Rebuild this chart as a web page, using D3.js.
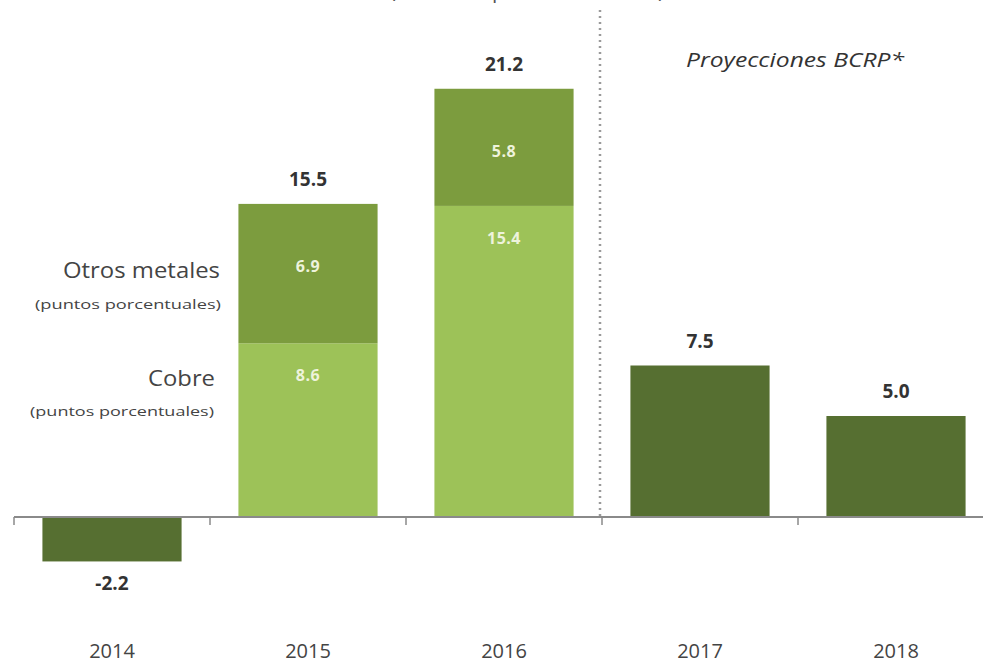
<!DOCTYPE html>
<html><head><meta charset="utf-8">
<script src="https://cdn.jsdelivr.net/npm/d3@7"></script>
<style>body{margin:0;background:#fff;}svg{display:block;}</style>
</head><body>
<svg id="c" width="983" height="665"></svg>
<script>
const years = ["2014","2015","2016","2017","2018"];
const cobre = [null, 8.6, 15.4, null, null];
const otros = [null, 6.9, 5.8, null, null];
const total = [-2.2, 15.5, 21.2, 7.5, 5.0];
const projectionStart = "2017";

const svg = d3.select("#c");
const font = "'Open Sans', Lato, sans-serif";

const x = d3.scaleBand().domain(years).range([14, 994]).paddingInner(0.29).paddingOuter(0.145);
const y = d3.scaleLinear().domain([-5, 25]).range([618, 12]);
const step = x.step();
const half = step * 0.29 / 2;

// partial title (cut off at top in the original)
svg.append("text").attr("x", 527).attr("y", -2).attr("text-anchor", "middle")
  .attr("font-family", font).attr("font-size", 21).attr("fill", "#555")
  .text("(Variación porcentual anual)");

// bars
const rows = years.map((yr, i) => ({yr, c: cobre[i], o: otros[i], t: total[i]}));
const g = svg.append("g");
rows.forEach(d => {
  const cx = x(d.yr) + x.bandwidth()/2;
  if (d.c != null) {
    g.append("rect").attr("x", x(d.yr)).attr("width", x.bandwidth())
      .attr("y", y(d.c)).attr("height", y(0) - y(d.c)).attr("fill", "#9dc258");
    g.append("rect").attr("x", x(d.yr)).attr("width", x.bandwidth())
      .attr("y", y(d.c + d.o)).attr("height", y(d.c) - y(d.c + d.o)).attr("fill", "#7c9c3e");
    g.append("text").attr("x", cx).attr("y", y(d.c + d.o) + 68)
      .attr("text-anchor", "middle").attr("font-family", font).attr("font-weight", "bold")
      .attr("font-size", 16).attr("letter-spacing", 0.5).attr("fill", "#eef3dc").text(d.o.toFixed(1));
    g.append("text").attr("x", cx).attr("y", y(d.c) + 38)
      .attr("text-anchor", "middle").attr("font-family", font).attr("font-weight", "bold")
      .attr("font-size", 16).attr("letter-spacing", 0.5).attr("fill", "#eef3dc").text(d.c.toFixed(1));
  } else {
    g.append("rect").attr("x", x(d.yr)).attr("width", x.bandwidth())
      .attr("y", y(Math.max(0, d.t))).attr("height", Math.abs(y(d.t) - y(0))).attr("fill", "#566f31");
  }
  const lbY = d.t >= 0 ? y(d.t) - 18 : y(d.t) + 29;
  g.append("text").attr("x", cx).attr("y", lbY)
    .attr("text-anchor", "middle").attr("font-family", font).attr("font-weight", "bold")
    .attr("font-size", 19).attr("fill", "#333").text(d.t.toFixed(1));
});

// zero axis line with boundary ticks
const ax = svg.append("g");
ax.append("line").attr("x1", 14).attr("x2", 994).attr("y1", y(0)).attr("y2", y(0))
  .attr("stroke", "#8a8a8a").attr("stroke-width", 2);
years.forEach(yr => {
  const bx = x(yr) - half;
  ax.append("line").attr("x1", bx).attr("x2", bx).attr("y1", y(0)).attr("y2", y(0) + 8)
    .attr("stroke", "#8a8a8a").attr("stroke-width", 1.5);
});

// dotted projection divider
const dx = x(projectionStart) - half - 2;
svg.append("line").attr("x1", dx).attr("x2", dx).attr("y1", 10).attr("y2", y(0))
  .attr("stroke", "#9a9a9a").attr("stroke-width", 2.5).attr("stroke-dasharray", "2,4");

svg.append("text").attr("x", 795).attr("y", 67).attr("text-anchor", "middle")
  .attr("font-family", font).attr("font-style", "italic").attr("font-size", 20)
  .attr("textLength", 218).attr("lengthAdjust", "spacingAndGlyphs")
  .attr("fill", "#333").text("Proyecciones BCRP*");

// series labels
const lab = svg.append("g").attr("font-family", font).attr("text-anchor", "end").attr("fill", "#444");
lab.append("text").attr("x", 220).attr("y", 278).attr("font-size", 21)
  .attr("textLength", 157).attr("lengthAdjust", "spacingAndGlyphs").text("Otros metales");
lab.append("text").attr("x", 221).attr("y", 309).attr("font-size", 12.5)
  .attr("textLength", 186).attr("lengthAdjust", "spacingAndGlyphs").text("(puntos porcentuales)");
lab.append("text").attr("x", 215).attr("y", 386).attr("font-size", 21)
  .attr("textLength", 67).attr("lengthAdjust", "spacingAndGlyphs").text("Cobre");
lab.append("text").attr("x", 214).attr("y", 416).attr("font-size", 12.5)
  .attr("textLength", 184).attr("lengthAdjust", "spacingAndGlyphs").text("(puntos porcentuales)");

// year labels
const xa = svg.append("g").attr("transform", "translate(0,641)")
  .call(d3.axisBottom(x).tickSize(0).tickPadding(3));
xa.select(".domain").remove();
xa.selectAll("text").attr("font-family", font).attr("font-size", 20).attr("fill", "#444");
</script>
</body></html>
